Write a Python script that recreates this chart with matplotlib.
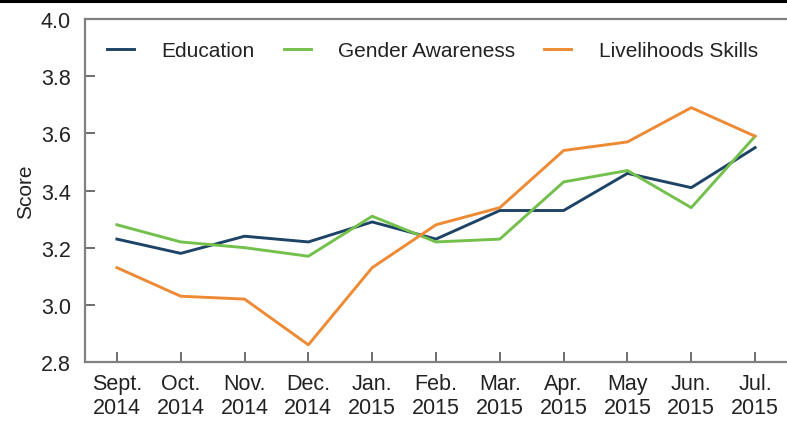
import matplotlib
matplotlib.use("Agg")
import matplotlib.pyplot as plt
from matplotlib.lines import Line2D

months = ["Sept.\n2014", "Oct.\n2014", "Nov.\n2014", "Dec.\n2014", "Jan.\n2015", "Feb.\n2015",
          "Mar.\n2015", "Apr.\n2015", "May\n2015", "Jun.\n2015", "Jul.\n2015"]
education = [3.23, 3.18, 3.24, 3.22, 3.29, 3.23, 3.33, 3.33, 3.46, 3.41, 3.55]
gender = [3.28, 3.22, 3.20, 3.17, 3.31, 3.22, 3.23, 3.43, 3.47, 3.34, 3.59]
livelihoods = [3.13, 3.03, 3.02, 2.86, 3.13, 3.28, 3.34, 3.54, 3.57, 3.69, 3.59]
yticks = [2.8, 3.0, 3.2, 3.4, 3.6, 3.8, 4.0]

plt.rcParams['font.family'] = ['Liberation Sans', 'DejaVu Sans']

fig = plt.figure(figsize=(7.87, 4.27), dpi=100)
ax = fig.add_axes([0.108, 0.150, 0.892, 0.803])

x = list(range(len(months)))
ax.plot(x, education, color='#1d4466', lw=2.1, label='Education')
ax.plot(x, gender, color='#74c04c', lw=2.1, label='Gender Awareness')
ax.plot(x, livelihoods, color='#ee8a34', lw=2.1, label='Livelihoods Skills')

ax.set_xlim(-0.5, 10.5)
ax.set_ylim(2.8, 4.0)
ax.set_xticks(x)
ax.set_xticklabels(months)
ax.set_yticks(yticks)
ax.set_yticklabels([f"{v:.1f}" for v in yticks])
ax.tick_params(axis='both', direction='in', length=7.5, width=1.2, color='#555555',
               labelsize=15.5, labelcolor='#222222')
ax.tick_params(axis='x', pad=8)
ax.tick_params(axis='y', pad=10)
ax.set_ylabel('Score', fontsize=15, color='#222222', labelpad=4)

for s in ['left', 'bottom', 'top']:
    ax.spines[s].set_color('#808080')
    ax.spines[s].set_linewidth(1.6)
ax.spines['right'].set_visible(False)

leg = ax.legend(ncol=3, loc='upper left', bbox_to_anchor=(0.011, 0.978), frameon=False,
                fontsize=15, handlelength=1.3, handletextpad=1.3, columnspacing=1.4,
                borderaxespad=0.3)
for t in leg.get_texts():
    t.set_color('#222222')

fig.add_artist(Line2D([0, 1], [0.996, 0.996], color='black', lw=2.2, transform=fig.transFigure))

fig.savefig('out.png', dpi=100)
